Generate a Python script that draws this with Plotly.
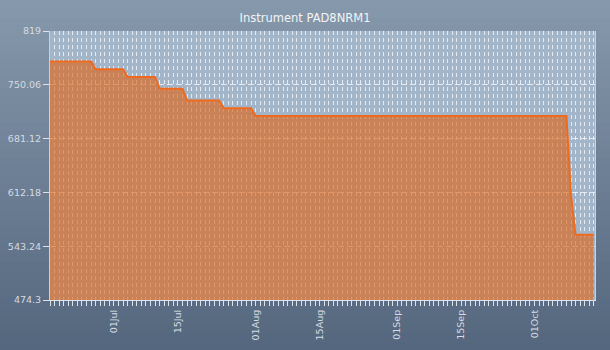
import plotly.graph_objects as go
import pandas as pd

# ---- data ----
start_date = "2013-06-17"
values = [
    780, 780, 780, 780, 780, 780, 780, 780, 780, 780,          # Jun17-Jun26
    770, 770, 770, 770, 770, 770, 770,                          # Jun27-Jul03
    760, 760, 760, 760, 760, 760, 760,                          # Jul04-Jul10
    745, 745, 745, 745, 745, 745,                               # Jul11-Jul16
    730, 730, 730, 730, 730, 730, 730, 730,                     # Jul17-Jul24
    720, 720, 720, 720, 720, 720, 720,                          # Jul25-Jul31
    710, 710, 710, 710, 710, 710, 710, 710, 710, 710,          # Aug01-
    710, 710, 710, 710, 710, 710, 710, 710, 710, 710,
    710, 710, 710, 710, 710, 710, 710, 710, 710, 710,
    710, 710, 710, 710, 710, 710, 710, 710, 710, 710,
    710, 710, 710, 710, 710, 710, 710, 710, 710, 710,
    710, 710, 710, 710, 710, 710, 710, 710, 710, 710,
    710, 710, 710, 710, 710, 710, 710, 710, 710,               # -Oct08
    608,                                                        # Oct09
    558, 558, 558, 558, 558,                                    # Oct10-Oct14
]
dates = pd.date_range(start_date, periods=len(values), freq="D")

y_tickvals = [474.3, 543.24, 612.18, 681.12, 750.06, 819]
y_ticktext = ["474.3", "543.24", "612.18", "681.12", "750.06", "819"]
x_label_dates = ["2013-07-01", "2013-07-15", "2013-08-01", "2013-08-15",
                 "2013-09-01", "2013-09-15", "2013-10-01"]
x_label_text = ["01Jul", "15Jul", "01Aug", "15Aug", "01Sep", "15Sep", "01Oct"]
title = "Instrument PAD8NRM1"

# ---- ticks ----
lab = {pd.Timestamp(d): t for d, t in zip(x_label_dates, x_label_text)}
x_tickvals = list(dates)
x_ticktext = [lab.get(d, "") for d in dates]

fig = go.Figure()
fig.add_trace(go.Scatter(
    x=dates, y=values, mode="lines",
    line=dict(color="#f06a1e", width=2),
    fill="tozeroy", fillcolor="rgba(225,98,20,0.62)",
    hoverinfo="x+y", showlegend=False,
))

# background gradient (styling only)
W, H = 610, 350
ml, mr, mt, mb = 50, 15, 31, 50
pw, ph = W - ml - mr, H - mt - mb
shapes = []
n = 40
top = (134, 152, 171)
bot = (84, 103, 126)
for i in range(n):
    f = i / (n - 1)
    c = tuple(int(round(top[k] + (bot[k] - top[k]) * f)) for k in range(3))
    y1 = 1 + mt / ph - (H / ph) * i / n
    y0 = 1 + mt / ph - (H / ph) * (i + 1) / n - 0.002
    shapes.append(dict(type="rect", xref="paper", yref="paper",
                       x0=-ml / pw - 0.01, x1=1 + mr / pw + 0.01, y0=y0, y1=y1,
                       fillcolor="rgb(%d,%d,%d)" % c, line=dict(width=0),
                       layer="below"))
shapes.append(dict(type="rect", xref="paper", yref="paper", x0=0, x1=1, y0=0, y1=1,
                   fillcolor="#a3b5c8", line=dict(width=0), layer="below"))

fig.update_layout(
    width=W, height=H,
    margin=dict(l=ml, r=mr, t=mt, b=mb),
    paper_bgcolor="#6f8399",
    plot_bgcolor="rgba(0,0,0,0)",
    shapes=shapes,
    title=dict(text=title, x=0.5, xanchor="center", y=1 - 18 / H, yanchor="middle",
               font=dict(family="DejaVu Sans", size=11.5, color="#f2f4f6")),
    font=dict(family="DejaVu Sans", size=9.5, color="#d5dbe2"),
    xaxis=dict(
        automargin=False,
        range=[dates[0], dates[-1] + pd.Timedelta(hours=6)],
        tickmode="array", tickvals=x_tickvals, ticktext=x_ticktext,
        tickangle=-90, ticks="outside", ticklen=5, tickcolor="#dde3ea",
        showgrid=True, gridcolor="rgba(245,248,252,0.8)", gridwidth=1,
        griddash="4px,3px",
        showline=True, linecolor="#dde3ea", linewidth=1, mirror=False,
        zeroline=False, tickfont=dict(size=9.5, color="#d5dbe2"),
    ),
    yaxis=dict(
        automargin=False,
        range=[474.3, 819],
        tickmode="array", tickvals=y_tickvals, ticktext=y_ticktext,
        ticks="outside", ticklen=6, tickcolor="#dde3ea",
        showgrid=True, gridcolor="rgba(245,248,252,0.8)", gridwidth=1,
        griddash="6px,3px",
        showline=True, linecolor="#c8d2dc", linewidth=1, mirror=True,
        zeroline=False, tickfont=dict(size=9.5, color="#d5dbe2"),
    ),
)

fig.write_html("out.html")
